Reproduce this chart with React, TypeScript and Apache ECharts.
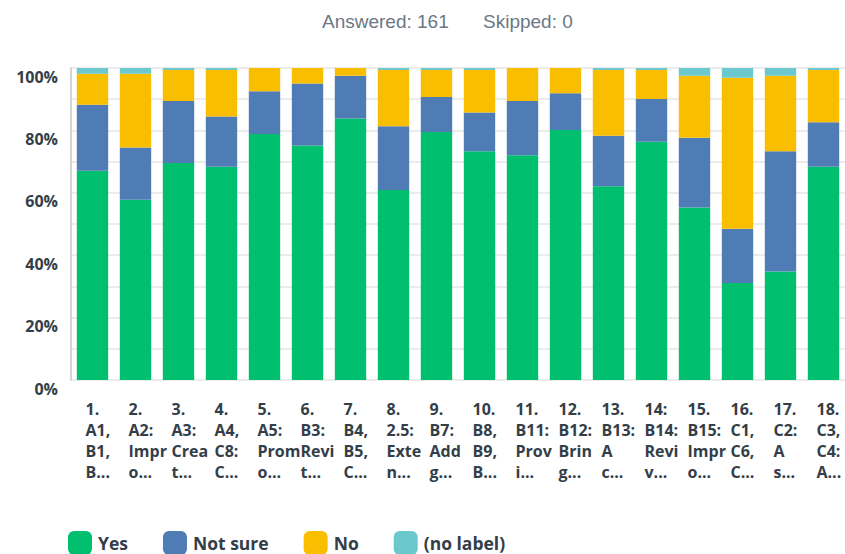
import React, { useEffect, useRef } from "react";
import * as echarts from "echarts";

const categories = [
  "1.\nA1,\nB1,\nB...",
  "2.\nA2:\nImpr\no...",
  "3.\nA3:\nCrea\nt...",
  "4.\nA4,\nC8:\nC...",
  "5.\nA5:\nProm\no...",
  "6.\nB3:\nRevi\nt...",
  "7.\nB4,\nB5,\nC...",
  "8.\n2.5:\nExte\nn...",
  "9.\nB7:\nAdd\ng...",
  "10.\nB8,\nB9,\nB...",
  "11.\nB11:\nProv\ni...",
  "12.\nB12:\nBrin\ng...",
  "13.\nB13:\nA\nc...",
  "14:\nB14:\nRevi\nv...",
  "15.\nB15:\nImpr\no...",
  "16.\nC1,\nC6,\nC...",
  "17.\nC2:\nA\ns...",
  "18.\nC3,\nC4:\nA...",
];

const yesValues = [67.08, 57.76, 69.57, 68.32, 78.88, 75.16, 83.85, 60.87, 79.5, 73.29, 72.05, 80.12, 62.11, 76.4, 55.28, 31.06, 34.78, 68.32];
const notSureValues = [21.12, 16.77, 19.88, 16.15, 13.66, 19.88, 13.66, 20.5, 11.18, 12.42, 17.39, 11.8, 16.15, 13.66, 22.36, 17.39, 38.51, 14.29];
const noValues = [9.94, 23.6, 9.94, 14.91, 7.45, 4.97, 2.48, 18.01, 8.7, 13.66, 10.56, 8.07, 21.12, 9.32, 19.88, 48.45, 24.22, 16.77];
const noLabelValues = [1.86, 1.86, 0.62, 0.62, 0, 0, 0, 0.62, 0.62, 0.62, 0, 0, 0.62, 0.62, 2.48, 3.11, 2.48, 0.62];

const seriesNames = ["Yes", "Not sure", "No", "(no label)"];
const seriesColors = ["#00bf6f", "#507cb6", "#f9be00", "#6bc8cd"];
const headerTexts = ["Answered: 161", "Skipped: 0"];

const FONT = '"Open Sans", "Noto Sans", sans-serif';
const DARK = "#333e48";
const HEADER_FONT = '19px "Liberation Sans", Arial, sans-serif';

export default function App() {
  const ref = useRef<HTMLDivElement>(null);
  useEffect(() => {
    if (!ref.current) return;
    const chart = echarts.init(ref.current, undefined, { renderer: "svg" });
    const allData = [yesValues, notSureValues, noValues, noLabelValues];
    chart.setOption({
      animation: false,
      backgroundColor: "#ffffff",
      graphic: [
        {
          type: "text",
          x: 322,
          y: 21,
          style: { text: headerTexts[0], font: HEADER_FONT, fill: "#6b7885", textAlign: "left", textVerticalAlign: "middle" },
        },
        {
          type: "text",
          x: 483,
          y: 21,
          style: { text: headerTexts[1], font: HEADER_FONT, fill: "#6b7885", textAlign: "left", textVerticalAlign: "middle" },
        },
      ],
      legend: {
        data: seriesNames,
        left: 68,
        top: 531,
        padding: 0,
        itemWidth: 24,
        itemHeight: 24,
        itemGap: 35,
        icon: "roundRect",
        textStyle: { fontFamily: FONT, fontWeight: "bold", fontSize: 17.5, lineHeight: 18, color: DARK, padding: [0, 0, 0, 1] },
      },
      grid: { left: 71, top: 68, width: 776, height: 312, containLabel: false },
      xAxis: {
        type: "category",
        data: categories,
        axisLine: { show: false },
        axisTick: { show: false },
        axisLabel: {
          interval: 0,
          margin: 18,
          formatter: (v: string) => v.split("\n").map((s) => "{a|" + s + "}").join("\n"),
          rich: {
            a: {
              width: 14,
              align: "left",
              fontFamily: FONT,
              fontWeight: "bold",
              fontSize: 16,
              lineHeight: 21,
              color: DARK,
            },
          },
        },
      },
      yAxis: {
        type: "value",
        min: 0,
        max: 100,
        interval: 10,
        axisLine: { show: true, lineStyle: { color: "#d4d4d4", width: 2 } },
        axisTick: { show: false },
        splitLine: { lineStyle: { color: "#ececec", width: 2 } },
        axisLabel: {
          margin: 13,
          verticalAlign: "top",
          lineHeight: 17,
          fontFamily: FONT,
          fontWeight: "bold",
          fontSize: 16,
          color: DARK,
          formatter: (v: number) => (v % 20 === 0 ? v + "%" : ""),
        },
      },
      series: seriesNames.map((name, i) => ({
        name,
        type: "bar",
        stack: "total",
        barWidth: "73%",
        itemStyle: { color: seriesColors[i] },
        data: allData[i],
      })),
    });
    return () => chart.dispose();
  }, []);
  return <div ref={ref} style={{ position: "fixed", left: 0, top: 0, width: 845, height: 554 }} />;
}
